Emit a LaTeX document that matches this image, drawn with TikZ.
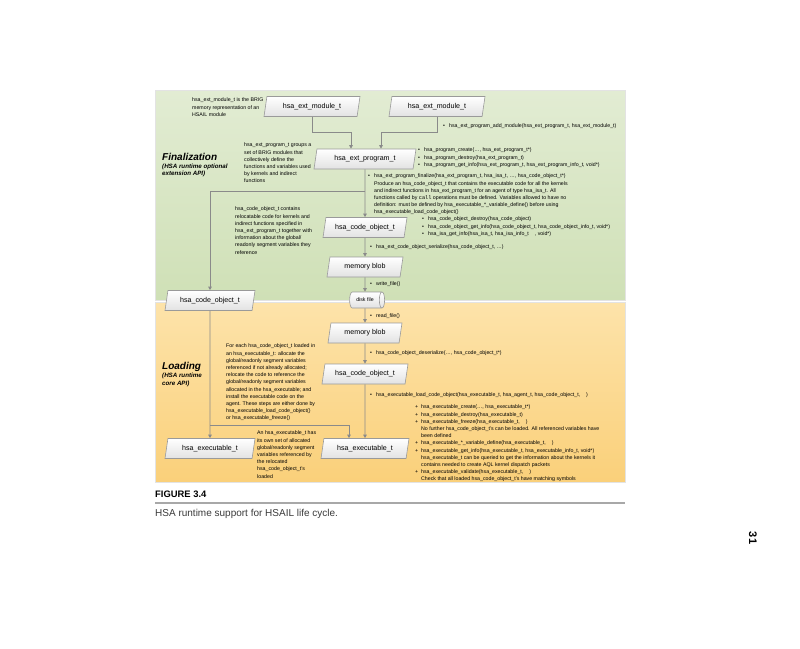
\documentclass[tikz,border=0pt]{standalone}
\usepackage{fontspec}
\setmainfont{Liberation Sans}
\setmonofont{Liberation Mono}
\usetikzlibrary{shapes.geometric,arrows.meta,positioning}

\definecolor{greentop}{HTML}{E2ECD3}
\definecolor{greenbot}{HTML}{CFE0B6}
\definecolor{orangetop}{HTML}{FDE3AA}
\definecolor{orangebot}{HTML}{FAD07A}
\definecolor{boxline}{HTML}{9A9A9A}
\definecolor{boxfill}{HTML}{E2E2E2}
\definecolor{linkgray}{HTML}{8A8A8A}
\definecolor{rulegray}{HTML}{A8A8A8}
\definecolor{captiongray}{HTML}{3A3A3A}

\newcommand\notefont{\fontsize{5.25}{7.2}\selectfont}
\newcommand\boxfont{\fontsize{7.1}{8}\selectfont}
\newcommand\apiitem{\makebox[6pt][l]{•}}
\newcommand\apiplus{\makebox[6pt][l]{+}}
\newcommand\apicont{\hspace*{6pt}}
\newcommand\apigap{\hspace*{6pt}}

\tikzset{
  apibox/.style={trapezium, trapezium left angle=66, trapezium right angle=114,
    trapezium stretches body, draw=boxline, line width=0.6pt,
    top color=white, bottom color=boxfill, minimum height=20pt,
    inner sep=0pt, font=\boxfont},
  diskbox/.style={cylinder, shape aspect=0.9, draw=boxline, line width=0.6pt,
    top color=white, bottom color=boxfill, minimum width=16pt,
    minimum height=35pt, inner sep=1pt, font=\notefont},
  note/.style={anchor=north west, align=left, inner sep=0pt, font=\notefont},
  title/.style={anchor=base west, inner sep=0pt,
    font=\bfseries\itshape\fontsize{10}{10}\selectfont},
  subtitle/.style={anchor=north west, align=left, inner sep=0pt,
    font=\bfseries\itshape\fontsize{6.2}{7.6}\selectfont},
  link/.style={draw=linkgray, line width=0.9pt,
    -{Triangle[width=3.6pt,length=3.6pt]}},
  panel/.style={draw=white!78!gray, line width=0.5pt},
}

\begin{document}
\begin{tikzpicture}[x=1pt,y=-1pt]
\useasboundingbox (0,0) rectangle (800,648);

% panels
\shade[top color=greentop, bottom color=greenbot] (155,90) rectangle (625,300);
\draw[panel] (155,90) rectangle (625,300);
\shade[top color=orangetop, bottom color=orangebot] (155,302) rectangle (625,482);
\draw[panel] (155,302) rectangle (625,482);

% objects
\node[apibox, minimum width=96pt] (modL) at (312,106.5) {hsa\_ext\_module\_t};
\node[apibox, minimum width=96pt] (modR) at (437,106.5) {hsa\_ext\_module\_t};
\node[apibox, minimum width=102pt] (prog) at (365,159) {hsa\_ext\_program\_t};
\node[apibox, minimum width=84pt] (coG) at (365,227.5) {hsa\_code\_object\_t};
\node[apibox, minimum width=76pt] (blobG) at (365,267) {memory blob};
\node[diskbox] (disk) at (365,300) {disk file};
\node[apibox, minimum width=90pt] (coL) at (210,300.5) {hsa\_code\_object\_t};
\node[apibox, minimum width=74pt] (blobO) at (365,333) {memory blob};
\node[apibox, minimum width=86pt] (coO) at (365,374) {hsa\_code\_object\_t};
\node[apibox, minimum width=90pt] (exeL) at (210,448.5) {hsa\_executable\_t};
\node[apibox, minimum width=88pt] (exeR) at (365,448.5) {hsa\_executable\_t};

% connectors
\coordinate (inL) at (351,132);
\coordinate (inR) at (381,132);
\coordinate (split1) at (365,191);
\coordinate (split2) at (210,425);
\coordinate (inE) at (349,425);
\draw[link] (modL) |- (inL) -- (inL |- prog.north);
\draw[link] (modR) |- (inR) -- (inR |- prog.north);
\draw[link] (prog) -- (coG);
\draw[link] (split1) -| (coL);
\draw[link] (coG) -- (blobG);
\draw[link] (blobG) -- (disk);
\draw[link] (disk) -- (blobO);
\draw[link] (blobO) -- (coO);
\draw[link] (coO) -- (exeR);
\draw[link] (coL) -- (exeL);
\draw[link] (split2) -- (inE) -- (inE |- exeR.north);

% side titles
\node[title] (finTitle) at (162,160.5) {Finalization};
\node[subtitle] (finSub) at (162,163.7) {(HSA runtime optional\\extension API)};
\node[title] (loadTitle) at (162,369.6) {Loading};
\node[subtitle] (loadSub) at (162,372.8) {(HSA runtime\\core API)};

% notes
\node[note] (modNote) at (192,97.8) {hsa\_ext\_module\_t is the BRIG\\memory representation of an\\HSAIL module};
\node[note] (progNote) at (244,142.8) {hsa\_ext\_program\_t groups a\\set of BRIG modules that\\collectively define the\\functions and variables used\\by kernels and indirect\\functions};
\node[note] (addNote) at (443,123.8) {\apiitem hsa\_ext\_program\_add\_module(hsa\_ext\_program\_t, hsa\_ext\_module\_t)};
\node[note] (progList) at (418,147.8) {\apiitem hsa\_program\_create(…, hsa\_ext\_program\_t*)\\
  \apiitem hsa\_program\_destroy(hsa\_ext\_program\_t)\\
  \apiitem hsa\_program\_get\_info(hsa\_ext\_program\_t, hsa\_ext\_program\_info\_t, void*)};
\node[note] (finList) at (368,173.8) {\apiitem hsa\_ext\_program\_finalize(hsa\_ext\_program\_t, hsa\_isa\_t, …, hsa\_code\_object\_t*)\\
  \apicont Produce an hsa\_code\_object\_t that contains the executable code for all the kernels\\
  \apicont and indirect functions in hsa\_ext\_program\_t for an agent of type hsa\_isa\_t. All\\
  \apicont functions called by \texttt{call} operations must be defined. Variables allowed to have no\\
  \apicont definition: must be defined by hsa\_executable\_*\_variable\_define() before using\\
  \apicont hsa\_executable\_load\_code\_object()};
\node[note] (coNote) at (235,206.8) {hsa\_code\_object\_t contains\\relocatable code for kernels and\\indirect functions specified in\\hsa\_ext\_program\_t together with\\information about the global/\\readonly segment variables they\\reference};
\node[note] (coList) at (422,216.8) {\apiitem hsa\_code\_object\_destroy(hsa\_code\_object)\\
  \apiitem hsa\_code\_object\_get\_info(hsa\_code\_object\_t, hsa\_code\_object\_info\_t, void*)\\
  \apiitem hsa\_isa\_get\_info(hsa\_isa\_t, hsa\_isa\_info\_t\apigap, void*)};
\node[note] (serialNote) at (370,244.8) {\apiitem hsa\_ext\_code\_object\_serialize(hsa\_code\_object\_t, …)};
\node[note] (writeNote) at (370,281.8) {\apiitem write\_file()};
\node[note] (readNote) at (370,313.8) {\apiitem read\_file()};
\node[note] (deserNote) at (370,350.8) {\apiitem hsa\_code\_object\_deserialize(…, hsa\_code\_object\_t*)};
\node[note] (loadNote) at (370,392.8) {\apiitem hsa\_executable\_load\_code\_object(hsa\_executable\_t, hsa\_agent\_t, hsa\_code\_object\_t,\apigap)};
\node[note] (stepNote) at (226,343.8) {For each hsa\_code\_object\_t loaded in\\an hsa\_executable\_t: allocate the\\global/readonly segment variables\\referenced if not already allocated;\\relocate the code to reference the\\global/readonly segment variables\\allocated in the hsa\_executable; and\\install the executable code on the\\agent. These steps are either done by\\hsa\_executable\_load\_code\_object()\\or hsa\_executable\_freeze()};
\node[note] (exeNote) at (257,430.8) {An hsa\_executable\_t has\\its own set of allocated\\global/readonly segment\\variables referenced by\\the relocated\\hsa\_code\_object\_t's\\loaded};
\node[note] (exeList) at (415,404.8) {\apiplus hsa\_executable\_create(…, hsa\_executable\_t*)\\
  \apiplus hsa\_executable\_destroy(hsa\_executable\_t)\\
  \apiplus hsa\_executable\_freeze(hsa\_executable\_t,\apigap)\\
  \apicont No further hsa\_code\_object\_t's can be loaded. All referenced variables have\\
  \apicont been defined\\
  \apiplus hsa\_executable\_*\_variable\_define(hsa\_executable\_t,\apigap)\\
  \apiplus hsa\_executable\_get\_info(hsa\_executable\_t, hsa\_executable\_info\_t, void*)\\
  \apicont hsa\_executable\_t can be queried to get the information about the kernels it\\
  \apicont contains needed to create AQL kernel dispatch packets\\
  \apiplus hsa\_executable\_validate(hsa\_executable\_t,\apigap)\\
  \apicont Check that all loaded hsa\_code\_object\_t's have matching symbols};

% caption
\node[anchor=base west, inner sep=0pt, font=\bfseries\fontsize{9.4}{10}\selectfont] (figLabel) at (155,497.5) {FIGURE 3.4};
\draw[rulegray, line width=1.6pt] (155,503) -- (625,503);
\node[anchor=base west, inner sep=0pt, text=captiongray, font=\fontsize{10}{12}\selectfont] (caption) at (155,516.5) {HSA runtime support for HSAIL life cycle.};
\node[rotate=-90, inner sep=0pt, font=\bfseries\fontsize{11}{11}\selectfont] (pageNo) at (753,538) {31};
\end{tikzpicture}
\end{document}
